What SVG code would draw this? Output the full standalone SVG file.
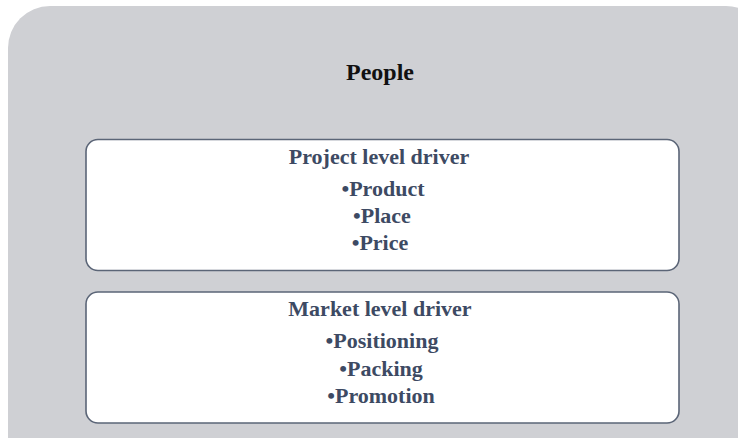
<svg xmlns="http://www.w3.org/2000/svg" width="738" height="438" viewBox="0 0 738 438">
  <style>
    .panel { fill: #cfd0d4; }
    .box { fill: #ffffff; stroke: #5b6577; stroke-width: 1.6; }
    .title { font-family: "Liberation Serif", "Times New Roman", serif; font-weight: bold; font-size: 24px; fill: #111111; text-anchor: middle; }
    .head { font-family: "Liberation Serif", "Times New Roman", serif; font-weight: bold; font-size: 22px; fill: #3d4a63; text-anchor: middle; }
    .item { font-family: "Liberation Serif", "Times New Roman", serif; font-weight: bold; font-size: 22px; fill: #3d4a63; text-anchor: middle; }
  </style>

  <!-- outer grey panel -->
  <g id="people">
    <rect class="panel" x="8" y="6" width="760" height="480" rx="42" ry="42"/>
    <text class="title" x="380" y="80">People</text>
  </g>

  <g id="project-level-driver">
    <rect class="box" x="86" y="139.5" width="593" height="131" rx="12" ry="12"/>
    <text class="head" x="379" y="164">Project level driver</text>
    <text class="item" x="383" y="196">•Product</text>
    <text class="item" x="382" y="223">•Place</text>
    <text class="item" x="380" y="250">•Price</text>
  </g>

  <g id="market-level-driver">
    <rect class="box" x="86" y="292" width="593" height="131" rx="12" ry="12"/>
    <text class="head" x="380" y="316">Market level driver</text>
    <text class="item" x="382" y="348">•Positioning</text>
    <text class="item" x="381" y="376">•Packing</text>
    <text class="item" x="381" y="403">•Promotion</text>
  </g>

  <g id="connectors"></g>
</svg>
